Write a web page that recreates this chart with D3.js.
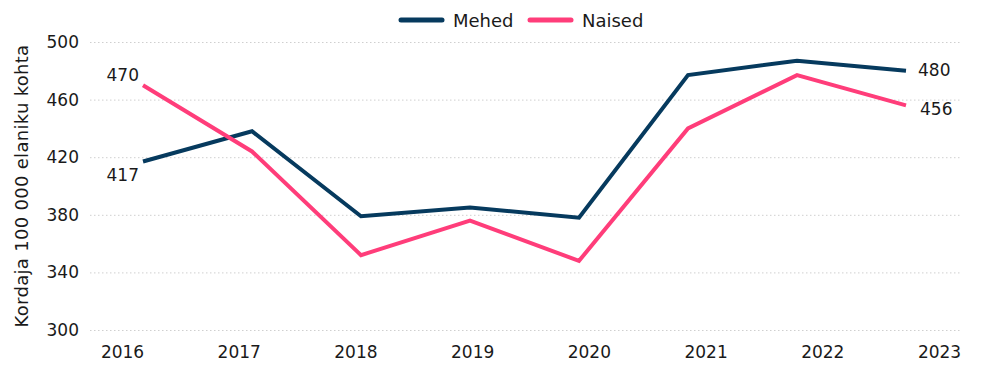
<!DOCTYPE html>
<html>
<head>
<meta charset="utf-8">
<script src="https://cdn.jsdelivr.net/npm/d3@7"></script>
<style>
  html, body { margin: 0; padding: 0; background: #fff; }
  svg { display: block; font-family: "DejaVu Sans", sans-serif; }
</style>
</head>
<body>
<svg id="chart" width="990" height="380"></svg>
<script>
const years = ["2016", "2017", "2018", "2019", "2020", "2021", "2022", "2023"];
const mehed = [417, 438, 379, 385, 378, 477, 487, 480];
const naised = [470, 424, 352, 376, 348, 440, 477, 456];
const yTicks = [300, 340, 380, 420, 460, 500];
const seriesNames = ["Mehed", "Naised"];
const seriesColors = ["#063A5E", "#FF3D7A"];
const yTitle = "Kordaja 100 000 elaniku kohta";

(function () {
const svg = d3.select("#chart");
const mLeft = 90, mRight = 960, mTop = 42, mBottom = 330;

const x = d3.scalePoint().domain(years).range([143, 906]);
const xLabel = d3.scalePoint().domain(years).range([122, 939]);
const y = d3.scaleLinear().domain([300, 500]).range([mBottom, mTop]);

// grid + y axis
const yAxis = svg.append("g")
  .attr("transform", `translate(${mLeft},0)`)
  .call(d3.axisLeft(y).tickValues(yTicks).tickSize(-(mRight - mLeft)).tickPadding(11));
yAxis.select(".domain").remove();
yAxis.selectAll(".tick line")
  .attr("stroke", "#cfcfcf").attr("stroke-width", 1).attr("stroke-dasharray", "1.5,2.5");
yAxis.selectAll(".tick text")
  .attr("fill", "#1a1a1a").style("font-size", "17px").style("font-family", "DejaVu Sans, sans-serif");

// x axis labels
const xAxis = svg.append("g")
  .attr("transform", `translate(0,${mBottom})`)
  .call(d3.axisBottom(xLabel).tickSize(0).tickPadding(16));
xAxis.select(".domain").remove();
xAxis.selectAll(".tick text")
  .attr("fill", "#1a1a1a").style("font-size", "17px").style("font-family", "DejaVu Sans, sans-serif");

// y title
svg.append("text")
  .attr("transform", `translate(28,${(mTop + mBottom) / 2 + 0}) rotate(-90)`)
  .attr("text-anchor", "middle")
  .attr("fill", "#1a1a1a")
  .style("font-size", "18px")
  .style("letter-spacing", "0.3px")
  .text(yTitle);

// lines
const line = d3.line().x((d, i) => x(years[i])).y(d => y(d));
[mehed, naised].forEach((data, k) => {
  svg.append("path")
    .datum(data)
    .attr("fill", "none")
    .attr("stroke", seriesColors[k])
    .attr("stroke-width", 4)
    .attr("stroke-linejoin", "miter")
    .attr("d", line);
});

// data labels
const lab = (txt, xx, yy, anchor) => svg.append("text")
  .attr("x", xx).attr("y", yy).attr("text-anchor", anchor)
  .attr("dominant-baseline", "central")
  .attr("fill", "#1a1a1a").style("font-size", "17px").text(txt);
const first = years[0], last = years[years.length - 1];
lab(naised[0], x(first) - 4, y(naised[0]) - 10, "end");
lab(mehed[0], x(first) - 4, y(mehed[0]) + 13, "end");
lab(mehed[mehed.length - 1], x(last) + 12, y(mehed[mehed.length - 1]) - 1, "start");
lab(naised[naised.length - 1], x(last) + 14, y(naised[naised.length - 1]) + 4, "start");

// legend
const legend = svg.append("g");
const lx = [401, 530];
seriesNames.forEach((name, k) => {
  legend.append("line")
    .attr("x1", lx[k]).attr("x2", lx[k] + 41)
    .attr("y1", 20).attr("y2", 20)
    .attr("stroke", seriesColors[k]).attr("stroke-width", 5)
    .attr("stroke-linecap", "round");
  legend.append("text")
    .attr("x", lx[k] + 52).attr("y", 20)
    .attr("dominant-baseline", "central")
    .attr("fill", "#1a1a1a").style("font-size", "18px")
    .text(name);
});
})();
</script>
</body>
</html>
